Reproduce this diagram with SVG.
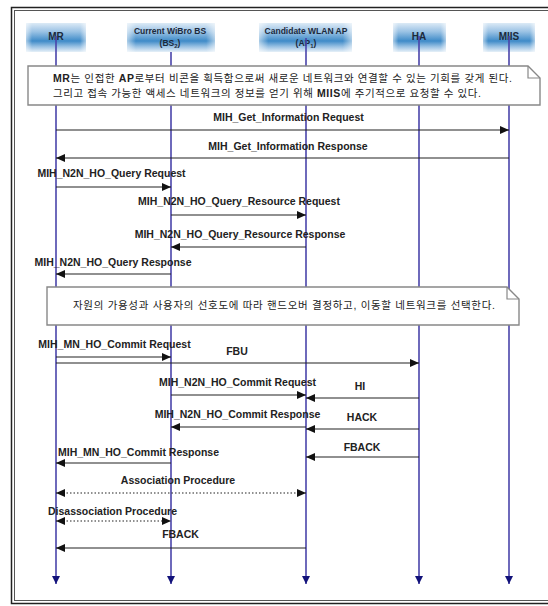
<svg xmlns="http://www.w3.org/2000/svg" width="548" height="606" viewBox="0 0 548 606">
<style>
.lbl{font-family:"Liberation Sans",Arial,sans-serif;font-weight:bold;font-size:10.5px;fill:#222;text-anchor:middle}
.hdr{font-family:"Liberation Sans",Arial,sans-serif;font-weight:bold;fill:#1c2a3c;text-anchor:middle}
.kr{font-family:"Liberation Sans","Noto Sans CJK KR",sans-serif;font-size:10.5px;fill:#222}
.msg{stroke:#222;stroke-width:1.2;fill:none;marker-end:url(#ah)}
.dot{stroke:#222;stroke-width:1.2;fill:none;stroke-dasharray:1.5,2;marker-end:url(#ah);marker-start:url(#ahs)}
.life{stroke:#4a44aa;stroke-width:1.6;fill:none;marker-end:url(#lah)}
.box{fill:url(#hg);stroke:none}
.note{fill:#fff;stroke:#888;stroke-width:1.4}
</style>
<defs>
<linearGradient id="hg" x1="0" y1="0" x2="0" y2="1">
<stop offset="0" stop-color="#dceaf6"/>
<stop offset="0.3" stop-color="#9ac2e4"/>
<stop offset="0.62" stop-color="#3f8bc8"/>
<stop offset="0.82" stop-color="#9cc3e4"/>
<stop offset="1" stop-color="#e6f0f8"/>
</linearGradient>
<linearGradient id="hf" x1="0" y1="0" x2="1" y2="0">
<stop offset="0" stop-color="#fff" stop-opacity="0.55"/>
<stop offset="0.1" stop-color="#fff" stop-opacity="0"/>
<stop offset="0.9" stop-color="#fff" stop-opacity="0"/>
<stop offset="1" stop-color="#fff" stop-opacity="0.55"/>
</linearGradient>
<marker id="ah" markerUnits="userSpaceOnUse" markerWidth="10" markerHeight="10" viewBox="0 0 10 10" refX="9" refY="5" orient="auto">
<path d="M0,1 L9,5 L0,9 Z" fill="#111"/>
</marker>
<marker id="ahs" markerUnits="userSpaceOnUse" markerWidth="10" markerHeight="10" viewBox="0 0 10 10" refX="1" refY="5" orient="auto">
<path d="M10,1 L1,5 L10,9 Z" fill="#111"/>
</marker>
<marker id="lah" markerUnits="userSpaceOnUse" markerWidth="10" markerHeight="10" viewBox="0 0 10 10" refX="8" refY="5" orient="auto">
<path d="M0,1 L8,5 L0,9 Z" fill="#12127a"/>
</marker>
</defs>
<rect width="548" height="606" fill="#fff"/>
<g id="frame" fill="none">
<rect x="11.5" y="7.5" width="600" height="596" stroke="#222" stroke-width="1.5"/>
<rect x="14.5" y="10.5" width="600" height="590" stroke="#555" stroke-width="1"/>
</g>
<g id="node-MR">
<rect class="box" x="26" y="23" width="60" height="29"/><rect x="26" y="23" width="60" height="29" fill="url(#hf)"/>
<text class="hdr" x="56" y="40" font-size="10">MR</text>
</g>
<g id="node-BS">
<rect class="box" x="127" y="23" width="88" height="29"/><rect x="127" y="23" width="88" height="29" fill="url(#hf)"/>
<text class="hdr" x="170" y="34" font-size="8.5">Current WiBro BS</text>
<text class="hdr" x="170" y="46" font-size="8.5">(BS<tspan font-size="6" dy="2">2</tspan><tspan dy="-2">)</tspan></text>
</g>
<g id="node-AP">
<rect class="box" x="259" y="23" width="93" height="29"/><rect x="259" y="23" width="93" height="29" fill="url(#hf)"/>
<text class="hdr" x="306" y="34" font-size="8.5">Candidate WLAN AP</text>
<text class="hdr" x="306" y="46" font-size="8.5">(AP<tspan font-size="6" dy="2">1</tspan><tspan dy="-2">)</tspan></text>
</g>
<g id="node-HA">
<rect class="box" x="393" y="23" width="53" height="29"/><rect x="393" y="23" width="53" height="29" fill="url(#hf)"/>
<text class="hdr" x="419" y="40" font-size="10">HA</text>
</g>
<g id="node-MIIS">
<rect class="box" x="483" y="23" width="52" height="29"/><rect x="483" y="23" width="52" height="29" fill="url(#hf)"/>
<text class="hdr" x="509" y="40" font-size="10">MIIS</text>
</g>
<g id="lifelines">
<line class="life" x1="56" y1="36" x2="56" y2="584"/>
<line class="life" x1="171" y1="52" x2="171" y2="584"/>
<line class="life" x1="306" y1="38" x2="306" y2="584"/>
<line class="life" x1="419" y1="36" x2="419" y2="584"/>
<line class="life" x1="509" y1="36" x2="509" y2="584"/>
</g>
<g id="note1">
<path class="note" d="M28,66 H528 L540,78 V105 H28 Z"/>
<path d="M528,66 V78 H540" fill="none" stroke="#888" stroke-width="1.2"/>
<text class="kr" x="53" y="82" textLength="459" lengthAdjust="spacing"><tspan font-weight="bold">MR</tspan>는 인접한 <tspan font-weight="bold">AP</tspan>로부터 비콘을 획득함으로써 새로운 네트워크와 연결할 수 있는 기회를 갖게 된다.</text>
<text class="kr" x="53" y="97" textLength="428" lengthAdjust="spacing">그리고 접속 가능한 액세스 네트워크의 정보를 얻기 위해 <tspan font-weight="bold">MIIS</tspan>에 주기적으로 요청할 수 있다.</text>
</g>
<g id="note2">
<path class="note" d="M47,287 H507 L519,299 V325 H47 Z"/>
<path d="M507,287 V299 H519" fill="none" stroke="#888" stroke-width="1.2"/>
<text class="kr" x="73" y="309" textLength="422" lengthAdjust="spacing">자원의 가용성과 사용자의 선호도에 따라 핸드오버 결정하고, 이동할 네트워크를 선택한다.</text>
</g>
<g id="connectors">
<line class="msg" x1="56" y1="130" x2="509" y2="130"/>
<line class="msg" x1="509" y1="158" x2="56" y2="158"/>
<line class="msg" x1="56" y1="187" x2="171" y2="187"/>
<line class="msg" x1="171" y1="215" x2="306" y2="215"/>
<line class="msg" x1="306" y1="247" x2="171" y2="247"/>
<line class="msg" x1="171" y1="274" x2="56" y2="274"/>
<line class="msg" x1="56" y1="357" x2="171" y2="357"/>
<line class="msg" x1="56" y1="363" x2="419" y2="363"/>
<line class="msg" x1="171" y1="395" x2="306" y2="395"/>
<line class="msg" x1="419" y1="398" x2="306" y2="398"/>
<line class="msg" x1="306" y1="427" x2="171" y2="427"/>
<line class="msg" x1="419" y1="429" x2="306" y2="429"/>
<line class="msg" x1="419" y1="457" x2="306" y2="457"/>
<line class="msg" x1="171" y1="463" x2="56" y2="463"/>
<line class="dot" x1="56" y1="493" x2="306" y2="493"/>
<line class="dot" x1="56" y1="521" x2="171" y2="521"/>
<line class="msg" x1="306" y1="548" x2="56" y2="548"/>
</g>
<g id="labels">
<text class="lbl" x="288.5" y="121">MIH_Get_Information Request</text>
<text class="lbl" x="288" y="150">MIH_Get_Information Response</text>
<text class="lbl" x="111.5" y="177">MIH_N2N_HO_Query Request</text>
<text class="lbl" x="239" y="205">MIH_N2N_HO_Query_Resource Request</text>
<text class="lbl" x="240" y="238">MIH_N2N_HO_Query_Resource Response</text>
<text class="lbl" x="113" y="266">MIH_N2N_HO_Query Response</text>
<text class="lbl" x="114.5" y="348">MIH_MN_HO_Commit Request</text>
<text class="lbl" x="237" y="355">FBU</text>
<text class="lbl" x="237.5" y="386">MIH_N2N_HO_Commit Request</text>
<text class="lbl" x="360" y="390">HI</text>
<text class="lbl" x="237.5" y="418">MIH_N2N_HO_Commit Response</text>
<text class="lbl" x="362" y="421">HACK</text>
<text class="lbl" x="362" y="451">FBACK</text>
<text class="lbl" x="138.5" y="456">MIH_MN_HO_Commit Response</text>
<text class="lbl" x="178" y="484">Association Procedure</text>
<text class="lbl" x="112.5" y="515">Disassociation Procedure</text>
<text class="lbl" x="180.5" y="538">FBACK</text>
</g>
</svg>
